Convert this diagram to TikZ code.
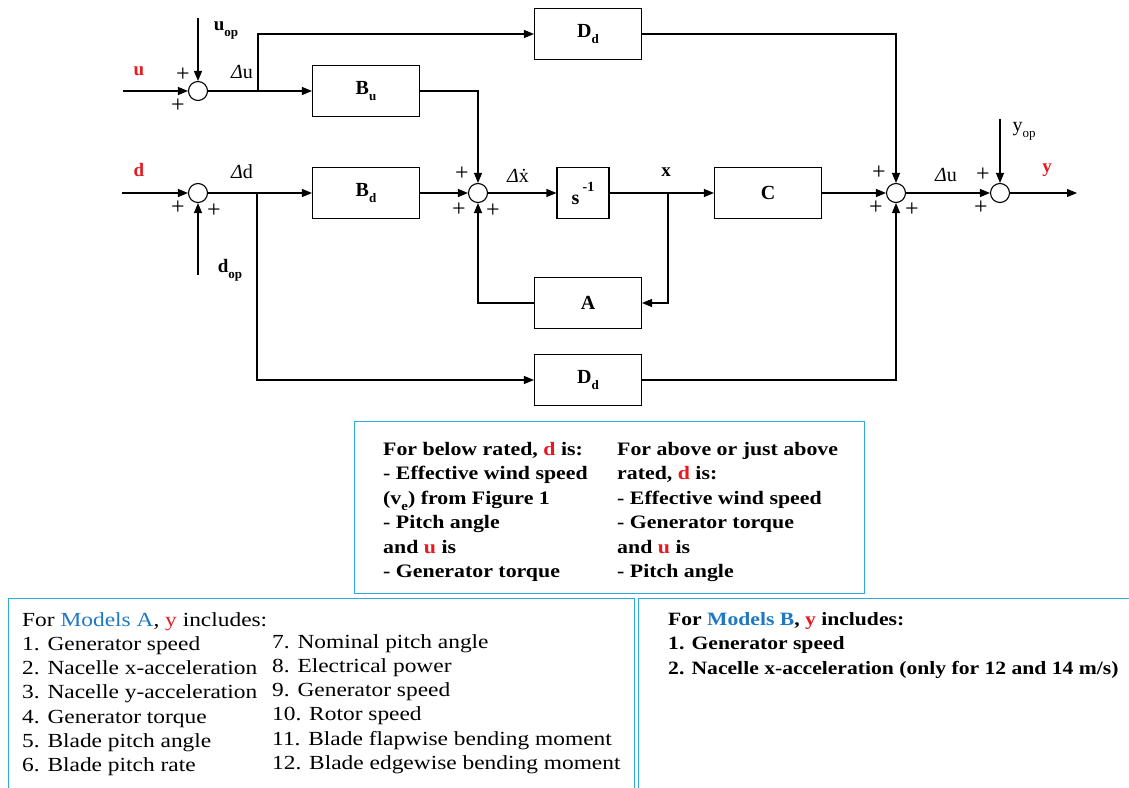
\documentclass[tikz,border=0pt]{standalone}
\usepackage{fontspec}
\setmainfont{Liberation Serif}
\newfontfamily\notefont{Liberation Serif}[FakeStretch=1.15]
\newfontfamily\widenotefont{Liberation Serif}[FakeStretch=1.17]
\usetikzlibrary{arrows.meta}

\definecolor{sigred}{RGB}{232,24,32}
\definecolor{modblue}{RGB}{30,120,196}
\definecolor{frameblue}{RGB}{45,172,228}

\newcommand{\lowsub}[1]{\raisebox{-6pt}{\fontsize{13}{13}\selectfont #1}}

\tikzset{
  blk/.style={draw, line width=1.1pt, minimum width=107pt, minimum height=51pt, inner sep=0pt, font=\fontsize{20}{20}\selectfont\bfseries},
  junc/.style={draw, circle, line width=1.1pt, minimum size=19pt, inner sep=0pt},
  sig/.style={line width=1.1pt, -{Triangle[length=10pt,width=8pt]}},
  pm/.style={font=\fontsize{24}{24}\selectfont, inner sep=0pt},
  lbl/.style={font=\fontsize{19}{19}\selectfont\bfseries, inner sep=0pt},
  dlbl/.style={font=\fontsize{20}{20}\selectfont, inner sep=0pt},
  note/.style={anchor=north west, align=left, inner sep=0pt, font=\notefont\fontsize{19}{24.5}\selectfont\bfseries},
  plain note/.style={note, font=\widenotefont\fontsize{20}{24.3}\selectfont},
  frame/.style={draw=frameblue, line width=1.3pt, inner sep=0pt, anchor=north west},
}

\begin{document}
\begin{tikzpicture}[x=1pt, y=-1pt]
  \path[use as bounding box, clip] (0,0) rectangle (1129,787);

  % summing junctions
  \node[junc] (su) at (198,91) {};
  \node[junc] (sd) at (198,193) {};
  \node[junc] (sx) at (478,193) {};
  \node[junc] (sy) at (896,193) {};
  \node[junc] (so) at (1000,193) {};

  % blocks
  \node[blk] (bu) at (366,91) {B\lowsub{u}};
  \node[blk] (ddt) at (588,34) {D\lowsub{d}};
  \node[blk] (bd) at (366,193) {B\lowsub{d}};
  \node[blk, minimum width=52pt] (si) at (583,193) {s\,\raisebox{13pt}{\fontsize{14}{14}\selectfont -1}};
  \node[blk] (cc) at (768,193) {C};
  \node[blk] (aa) at (588,303) {A};
  \node[blk] (ddb) at (588,380) {D\lowsub{d}};

  % free ends and branch points
  \coordinate (uin) at (123,91);
  \coordinate (uop) at (198,18);
  \coordinate (din) at (122,193);
  \coordinate (dop) at (198,275);
  \coordinate (ub) at (258,91);
  \coordinate (db) at (257,193);
  \coordinate (xb) at (668,193);
  \coordinate (yop) at (1000,119);
  \coordinate (yout) at (1077,193);

  % signals
  \draw[sig] (uin) -- (su.west);
  \draw[sig] (uop) -- (su.north);
  \draw[sig] (su.east) -- (bu.west);
  \draw[sig] (ub) |- (ddt.west);
  \draw[sig] (bu.east) -| (sx.north);
  \draw[sig] (din) -- (sd.west);
  \draw[sig] (dop) -- (sd.south);
  \draw[sig] (sd.east) -- (bd.west);
  \draw[sig] (db) |- (ddb.west);
  \draw[sig] (bd.east) -- (sx.west);
  \draw[sig] (sx.east) -- (si.west);
  \draw[sig] (si.east) -- (cc.west);
  \draw[sig] (xb) |- (aa.east);
  \draw[sig] (aa.west) -| (sx.south);
  \draw[sig] (ddt.east) -| (sy.north);
  \draw[sig] (ddb.east) -| (sy.south);
  \draw[sig] (cc.east) -- (sy.west);
  \draw[sig] (sy.east) -- (so.west);
  \draw[sig] (yop) -- (so.north);
  \draw[sig] (so.east) -- (yout);

  % signal labels
  \node[lbl, text=sigred] (lu) at (139,71) {u};
  \node[lbl, text=sigred] (ld) at (139,170) {d};
  \node[lbl] (luop) at (226,31) {u\lowsub{op}};
  \node[lbl] (ldop) at (230,270) {d\lowsub{op}};
  \node[dlbl] (ldu) at (242,72) {{\itshape Δ}u};
  \node[dlbl] (ldd) at (242,172) {{\itshape Δ}d};
  \node[dlbl] (ldx) at (518,176) {{\itshape Δ}\.{x}};
  \node[lbl] (lx) at (666,172) {x};
  \node[dlbl] (ldy) at (946,175) {{\itshape Δ}u};
  \node[dlbl] (lyop) at (1024,131) {y\lowsub{op}};
  \node[lbl, text=sigred] (ly) at (1047,170) {y};

  % signs at the junctions
  \foreach \px/\py [count=\k] in {183/75, 178/106, 178/208, 214/211, 462/174, 459/210,
      493/211, 879/173, 876/208, 912/210, 983/175, 981/208}
    \node[pm] (pl\k) at (\px,\py) {+};

  % notes
  \node[frame, minimum width=510pt, minimum height=172pt] (rated) at (354,421) {};
  \node[note] (below) at (383,442) {For below rated, \textcolor{sigred}{d} is:\\
    - Effective wind speed\\
    (v\lowsub{e}) from Figure 1\\
    - Pitch angle\\
    and \textcolor{sigred}{u} is\\
    - Generator torque};
  \node[note] (above) at (617,442) {For above or just above\\
    rated, \textcolor{sigred}{d} is:\\
    - Effective wind speed\\
    - Generator torque\\
    and \textcolor{sigred}{u} is\\
    - Pitch angle};

  \node[frame, minimum width=626pt, minimum height=220pt] (boxa) at (8,598) {};
  \node[frame, minimum width=520pt, minimum height=220pt] (boxb) at (638,598) {};
  \node[plain note] (moda) at (22,612) {For \textcolor{modblue}{Models A}, \textcolor{sigred}{y} includes:\\
    1. Generator speed\\
    2. Nacelle x-acceleration\\
    3. Nacelle y-acceleration\\
    4. Generator torque\\
    5. Blade pitch angle\\
    6. Blade pitch rate};
  \node[plain note] (modb) at (272,634) {7. Nominal pitch angle\\
    8. Electrical power\\
    9. Generator speed\\
    10. Rotor speed\\
    11. Blade flapwise bending moment\\
    12. Blade edgewise bending moment};
  \node[note, font=\notefont\fontsize{18.8}{24.5}\selectfont\bfseries] (modc) at (668,612) {For \textcolor{modblue}{Models B}, \textcolor{sigred}{y} includes:\\
    1. Generator speed\\
    2. Nacelle x-acceleration (only for 12 and 14 m/s)};
\end{tikzpicture}
\end{document}
